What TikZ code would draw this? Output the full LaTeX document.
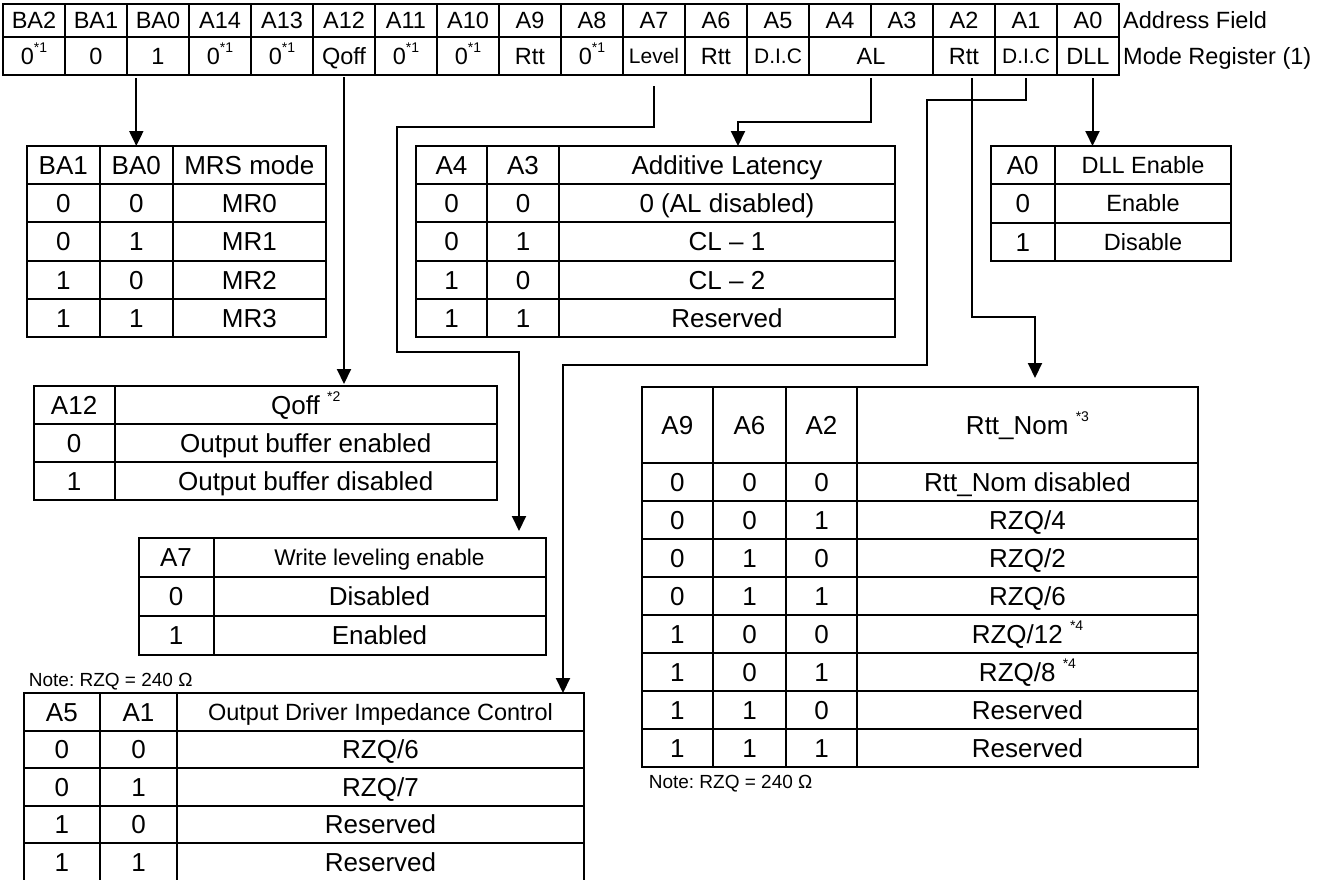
\documentclass[tikz,border=0pt]{standalone}
\usepackage{fontspec}
\setmainfont{Liberation Sans}
\usetikzlibrary{arrows.meta,calc}
\frenchspacing
\newcommand\sps[1]{\raisebox{0.5em}{\fontsize{14}{14}\selectfont #1}}
\newcommand\cellat[7]{\node[cell,#6,minimum width={(#4)-(#2)},minimum height={(#5)-(#3)},anchor=north west] (#1) at (#2,#3) {#7};}
\newcommand\rowII[5]{\cellat{#1a}{\xA}{#2}{\xB}{#3}{plain}{#4}\cellat{#1b}{\xB}{#2}{\xC}{#3}{lastcol}{#5}}
\newcommand\rowIII[6]{\cellat{#1a}{\xA}{#2}{\xB}{#3}{plain}{#4}\cellat{#1b}{\xB}{#2}{\xC}{#3}{plain}{#5}\cellat{#1c}{\xC}{#2}{\xD}{#3}{lastcol}{#6}}
\newcommand\rowIV[7]{\cellat{#1a}{\xA}{#2}{\xB}{#3}{plain}{#4}\cellat{#1b}{\xB}{#2}{\xC}{#3}{plain}{#5}\cellat{#1c}{\xC}{#2}{\xD}{#3}{plain}{#6}\cellat{#1d}{\xD}{#2}{\xE}{#3}{lastcol}{#7}}
\begin{document}
\begin{tikzpicture}[x=1pt,y=-1pt,
  cell/.style={draw,line width=2pt,inner sep=0pt,outer sep=0pt,font=\fontsize{26}{26}\selectfont,text height=18.6pt,text depth=0pt},
  plain/.style={},
  lastcol/.style={},
  ftop/.style={font=\fontsize{23.5}{23.5}\selectfont,text height=16.8pt},
  fmid/.style={font=\fontsize{23.5}{23.5}\selectfont,text height=16.8pt},
  fsmall/.style={font=\fontsize{21}{21}\selectfont,text height=15pt},
  fhead/.style={font=\fontsize{22.7}{22.7}\selectfont,text height=16.3pt},
  fodic/.style={font=\fontsize{23.5}{23.5}\selectfont,text height=16.8pt},
  note/.style={inner sep=0pt,font=\fontsize{19}{19}\selectfont,text height=13.6pt,text depth=0pt},
  lbl/.style={inner sep=0pt,font=\fontsize{23.5}{23.5}\selectfont,text height=16.8pt,text depth=0pt},
  arr/.style={line width=2pt,-{Triangle[length=15pt,width=14pt]}}]
\useasboundingbox (0,0) rectangle (1326,879);
\fill[white] (0,0) rectangle (1326,879);
% ---------- top register table ----------
\foreach \lab [count=\i from 0] in {BA2,BA1,BA0,A14,A13,A12,A11,A10,A9,A8,A7,A6,A5,A4,A3,A2,A1,A0}{
  \node[cell,ftop,minimum width=62,minimum height=33,anchor=north west] (h\i) at ({3+62*\i},4) {\lab};
}
\cellat{r0}{3}{37}{65}{75}{ftop}{0\sps{*1}}
\cellat{r1}{65}{37}{127}{75}{ftop}{0}
\cellat{r2}{127}{37}{189}{75}{ftop}{1}
\cellat{r3}{189}{37}{251}{75}{ftop}{0\sps{*1}}
\cellat{r4}{251}{37}{313}{75}{ftop}{0\sps{*1}}
\cellat{r5}{313}{37}{375}{75}{ftop}{Qoff}
\cellat{r6}{375}{37}{437}{75}{ftop}{0\sps{*1}}
\cellat{r7}{437}{37}{499}{75}{ftop}{0\sps{*1}}
\cellat{r8}{499}{37}{561}{75}{ftop}{Rtt}
\cellat{r9}{561}{37}{623}{75}{ftop}{0\sps{*1}}
\cellat{r10}{623}{37}{685}{75}{fsmall}{Level}
\cellat{r11}{685}{37}{747}{75}{ftop}{Rtt}
\cellat{r12}{747}{37}{809}{75}{fsmall}{D.I.C}
\cellat{r13}{809}{37}{933}{75}{ftop}{AL}
\cellat{r15}{933}{37}{995}{75}{ftop}{Rtt}
\cellat{r16}{995}{37}{1057}{75}{fsmall}{D.I.C}
\cellat{r17}{1057}{37}{1119}{75}{ftop}{DLL}
\node[lbl,anchor=west] (af) at (1123,20.5) {Address Field};
\node[lbl,anchor=west] (mr) at (1123,56) {Mode Register (1)};
% ---------- BA table ----------
\def\xA{26.5}\def\xB{100}\def\xC{172.6}\def\xD{326}
\rowIII{bah}{146}{184.2}{BA1}{BA0}{MRS mode}
\rowIII{baa}{184.2}{222.4}{0}{0}{MR0}
\rowIII{bab}{222.4}{260.6}{0}{1}{MR1}
\rowIII{bac}{260.6}{298.8}{1}{0}{MR2}
\rowIII{bad}{298.8}{337}{1}{1}{MR3}
% ---------- AL table ----------
\def\xA{416}\def\xB{487}\def\xC{559}\def\xD{895}
\rowIII{alh}{146}{184.2}{A4}{A3}{Additive Latency}
\rowIII{ala}{184.2}{222.4}{0}{0}{0 (AL disabled)}
\rowIII{alb}{222.4}{260.6}{0}{1}{CL – 1}
\rowIII{alc}{260.6}{298.8}{1}{0}{CL – 2}
\rowIII{ald}{298.8}{337}{1}{1}{Reserved}
% ---------- DLL table ----------
\def\xA{990.5}\def\xB{1055}\def\xC{1231}
\tikzset{lastcol/.style={fmid}}
\rowII{dlh}{146}{184.3}{A0}{DLL Enable}
\rowII{dla}{184.3}{222.6}{0}{Enable}
\rowII{dlb}{222.6}{261}{1}{Disable}
% ---------- Qoff table ----------
\def\xA{33.7}\def\xB{114.5}\def\xC{497}
\tikzset{lastcol/.style={}}
\rowII{qh}{386}{424}{A12}{Qoff \sps{*2}}
\rowII{qa}{424}{462}{0}{Output buffer enabled}
\rowII{qb}{462}{500}{1}{Output buffer disabled}
% ---------- Write leveling table ----------
\def\xA{138.5}\def\xB{213.5}\def\xC{545.5}
\tikzset{lastcol/.style={fhead}}
\rowII{wh}{538}{577}{A7}{Write leveling enable}
\tikzset{lastcol/.style={}}
\rowII{wa}{577}{616}{0}{Disabled}
\rowII{wb}{616}{655}{1}{Enabled}
\node[note,anchor=west] (n1) at (28.7,680) {Note: RZQ = 240 Ω};
% ---------- ODIC table ----------
\def\xA{23.7}\def\xB{100}\def\xC{177}\def\xD{584}
\tikzset{lastcol/.style={fodic}}
\rowIII{oh}{693}{730.5}{A5}{A1}{Output Driver Impedance Control}
\tikzset{lastcol/.style={}}
\rowIII{oa}{730.5}{768}{0}{0}{RZQ/6}
\rowIII{ob}{768}{805.5}{0}{1}{RZQ/7}
\rowIII{oc}{805.5}{843}{1}{0}{Reserved}
\rowIII{od}{843}{880.5}{1}{1}{Reserved}
% ---------- Rtt_Nom table ----------
\def\xA{641.7}\def\xB{713}\def\xC{786}\def\xD{857}\def\xE{1198}
\rowIV{rh}{387}{463}{A9}{A6}{A2}{Rtt\_Nom \sps{*3}}
\rowIV{ta}{463}{501}{0}{0}{0}{Rtt\_Nom disabled}
\rowIV{tb}{501}{539}{0}{0}{1}{RZQ/4}
\rowIV{tc}{539}{577}{0}{1}{0}{RZQ/2}
\rowIV{td}{577}{615}{0}{1}{1}{RZQ/6}
\rowIV{te}{615}{653}{1}{0}{0}{RZQ/12 \sps{*4}}
\rowIV{tf}{653}{691}{1}{0}{1}{RZQ/8 \sps{*4}}
\rowIV{tg}{691}{729}{1}{1}{0}{Reserved}
\rowIV{th}{729}{767}{1}{1}{1}{Reserved}
\node[note,anchor=west] (n2) at (648.6,782) {Note: RZQ = 240 Ω};
% ---------- connectors ----------
\coordinate (lv1) at (397,127);
\coordinate (lv2) at (519,352);
\coordinate (alk) at (738,122);
\coordinate (dc1) at (927,100);
\coordinate (dc2) at (563,365);
\coordinate (rtk) at (1035,317);
\coordinate (rts) at ($(r15.south)+(8,3)$);
\coordinate (dls) at ($(r17.south)+(4.5,3)$);
\draw[arr] ($(bahb.north |- r2.south)+(0,3)$) -- (bahb.north);
\draw[arr] ($(r5.south)+(0,2)$) -- ($(r5.south |- qhb.north)+(0,-2)$);
\draw[arr] ($(r10.south)+(0,11)$) |- (lv1) |- (lv2) -- ($(lv2 |- whb.north)+(0,-7)$);
\draw[arr] ($(r13.south)+(0,3)$) |- (alk) -- (alk |- alhc.north);
\draw[arr] ($(r16.south)+(0,3)$) |- (dc1) |- (dc2) -- (dc2 |- ohc.north);
\draw[arr] (rts) |- (rtk) -- ($(rtk |- rhd.north)+(0,-9)$);
\draw[arr] (dls) -- (dls |- dlhb.north);
\end{tikzpicture}
\end{document}
